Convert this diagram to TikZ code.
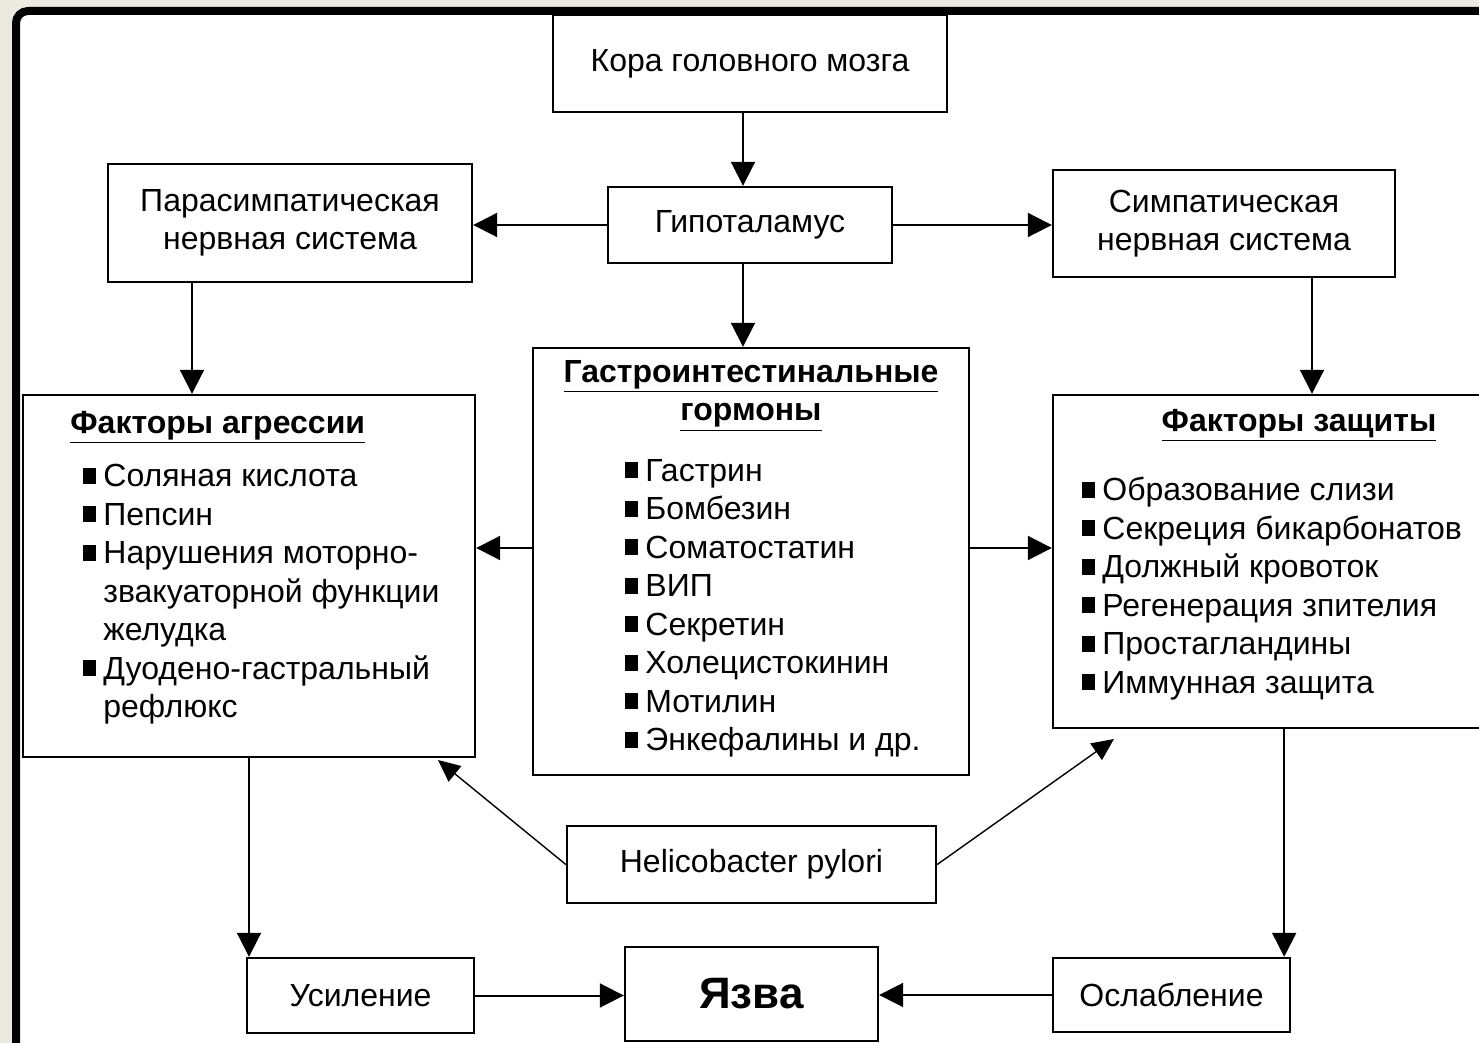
\documentclass[tikz,border=0pt]{standalone}
\usepackage{fontspec}
\setmainfont{Liberation Sans}
\usetikzlibrary{arrows.meta,calc}
\definecolor{paper}{HTML}{ECE9E1}
\newcommand{\txt}{\fontsize{16}{19.25}\selectfont}
\newcommand{\sq}{\makebox[10pt][l]{\rule[1.5pt]{6.5pt}{8pt}}}
\newcommand{\nosq}{\hspace*{10pt}}

\begin{document}
\begin{tikzpicture}[x=0.5pt,y=-0.5pt,
  box/.style={draw,line width=1.2pt,inner sep=0pt,fill=white,font=\txt},
  ttl/.style={inner sep=0pt,font=\bfseries\txt},
  lst/.style={inner sep=0pt,align=left,font=\txt},
  arr/.style={line width=1pt,-{Triangle[length=12pt,width=12pt]}},
  harr/.style={line width=0.7pt,-{Triangle[length=11pt,width=10pt]}}]

 \useasboundingbox (0,0) rectangle (1479,1043);
 \fill[paper] (0,0) rectangle (1479,1043);
 \draw[line width=4pt,rounded corners=6pt,fill=white] (16,11) rectangle (1530,1090);

 \node[box,minimum width=197pt,minimum height=48.5pt] (kora) at (750,63.5) {Кора головного мозга};
 \node[box,minimum width=142pt,minimum height=38pt] (hyp) at (750,225) {Гипоталамус};
 \node[box,minimum width=182pt,minimum height=59pt,align=center] (para) at (290,223) {Парасимпатическая\\нервная система};
 \node[box,minimum width=171pt,minimum height=53.5pt,align=center] (simp) at (1224,223.5) {Симпатическая\\нервная система};
 \node[box,minimum width=226pt,minimum height=181pt] (aggr) at (249,576) {};
 \node[box,minimum width=218pt,minimum height=213.5pt] (horm) at (751,561.5) {};
 \node[box,minimum width=221pt,minimum height=166.5pt] (prot) at (1274,561.5) {};
 \node[box,minimum width=184.5pt,minimum height=38.5pt] (hp) at (751.5,864.5) {Helicobacter pylori};
 \node[box,minimum width=113.5pt,minimum height=37.5pt] (usil) at (360.5,995.5) {Усиление};
 \node[box,minimum width=126.5pt,minimum height=47pt,font=\bfseries\fontsize{22}{26}\selectfont] (yazva) at (751.5,994) {Язва};
 \node[box,minimum width=118.5pt,minimum height=37pt] (weak) at (1171.5,995) {Ослабление};

 \node[ttl,anchor=base west] (aggrt) at (70,433) {\underline{Факторы агрессии}};
 \node[ttl,align=center,anchor=north] (hormt) at (751,360) {\underline{Гастроинтестинальные}\\\underline{гормоны}};
 \node[ttl,anchor=base] (prott) at (1299,431) {\underline{Факторы защиты}};

 \node[lst,anchor=north west] (aggrl) at (83,464) {\sq Соляная кислота\\\sq Пепсин\\\sq Нарушения моторно-\\\nosq звакуаторной функции\\\nosq желудка\\\sq Дуодено-гастральный\\\nosq рефлюкс};
 \node[lst,anchor=north west] (horml) at (625,459) {\sq Гастрин\\\sq Бомбезин\\\sq Соматостатин\\\sq ВИП\\\sq Секретин\\\sq Холецистокинин\\\sq Мотилин\\\sq Энкефалины и др.};
 \node[lst,anchor=north west] (protl) at (1082,477) {\sq Образование слизи\\\sq Секреция бикарбонатов\\\sq Должный кровоток\\\sq Регенерация зпителия\\\sq Простагландины\\\sq Иммунная защита};

 \draw[arr] ([xshift=-3.5pt]kora.south) -- ([xshift=-3.5pt]hyp.north);
 \draw[arr] ([xshift=-3.5pt]hyp.south) -- ([xshift=-3.5pt]hyp.south |- horm.north);
 \draw[arr] (hyp.west) -- (hyp.west -| para.east);
 \draw[arr] (hyp.east) -- (hyp.east -| simp.west);
 \draw[arr] ([xshift=-49pt]para.south) -- ([xshift=-49pt]para.south |- aggr.north);
 \draw[arr] ([xshift=44pt]simp.south) -- ([xshift=44pt]simp.south |- prot.north);
 \draw[arr] ([yshift=6.75pt]horm.west) -- ([yshift=6.75pt]horm.west -| aggr.east);
 \draw[arr] ([yshift=6.75pt]horm.east) -- ([yshift=6.75pt]horm.east -| prot.west);
 \draw[arr] (aggr.south) -- (aggr.south |- usil.north);
 \draw[arr] ([xshift=-3.5pt]weak.north east |- prot.south) -- ([xshift=-3.5pt]weak.north east);
 \draw[arr] (usil.east) -- (usil.east -| yazva.west);
 \draw[arr] (weak.west) -- (weak.west -| yazva.east);
 \coordinate (hpa) at (438,760);
 \coordinate (hpb) at (1114,739);
 \draw[harr] (hp.west) -- (hpa);
 \draw[harr] (hp.east) -- (hpb);
\end{tikzpicture}
\end{document}
